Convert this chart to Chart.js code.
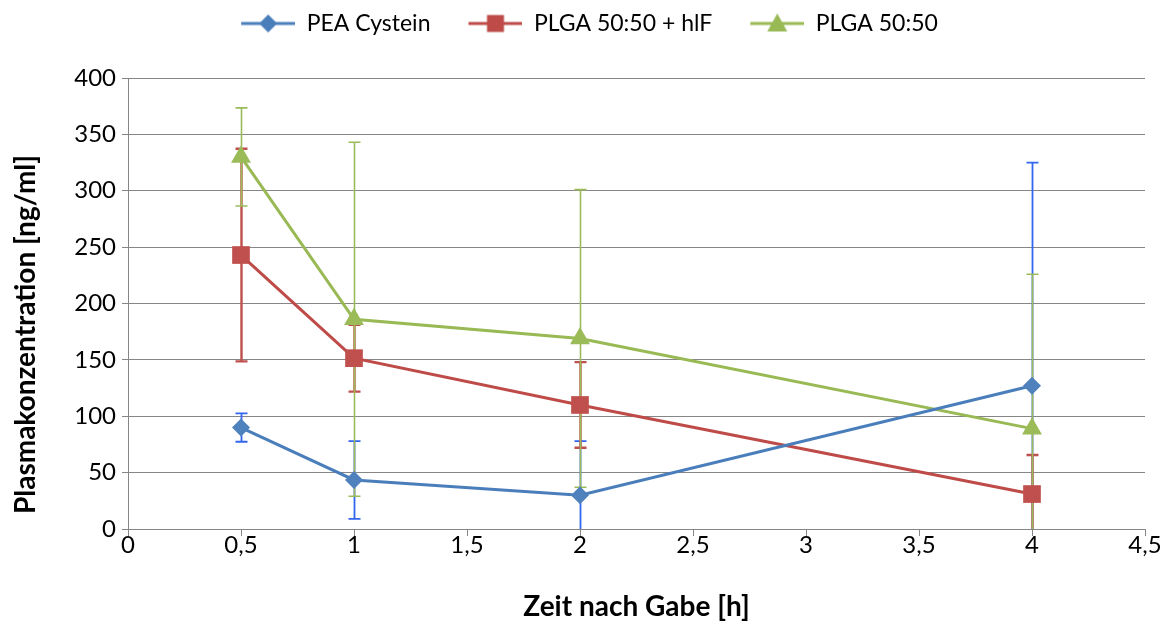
<!DOCTYPE html>
<html>
<head>
<meta charset="utf-8">
<script src="https://cdn.jsdelivr.net/npm/chart.js@4/dist/chart.umd.min.js"></script>
<style>
  html, body { margin: 0; padding: 0; background: #ffffff; }
  #wrap { width: 1168px; height: 625px; }
</style>
</head>
<body>
<div id="wrap"><canvas id="c" width="1168" height="625"></canvas></div>
<script>
// Sampling times [h]
const times = [0.5, 1, 2, 4];

// Mean plasma concentrations [ng/ml] and standard deviations per formulation
const peaCystein   = [90, 43.5, 30, 127];
const peaCysteinSd = [12.6, 34.5, 48, 198];
const plgaHlf      = [243, 151.5, 110, 31];
const plgaHlfSd    = [94.3, 29.7, 38, 34.6];
const plga         = [330, 186, 169, 89];
const plgaSd       = [43.5, 157, 132, 137];

const seriesNames = ['PEA Cystein', 'PLGA 50:50 + hlF', 'PLGA 50:50'];
const xTickLabels = ['0', '0,5', '1', '1,5', '2', '2,5', '3', '3,5', '4', '4,5'];
const yTickLabels = ['0', '50', '100', '150', '200', '250', '300', '350', '400'];
const yTitle = 'Plasmakonzentration [ng/ml]';
const xTitle = 'Zeit nach Gabe [h]';

const FONT = 'Lato, "Open Sans", "DejaVu Sans", sans-serif';
const GRID = '#868686';
const SWATCH_GAP = 28;   // blank lead-in before each legend swatch (item spacing)

const toPoints = vals => vals.map((v, i) => ({ x: times[i], y: v }));

// Legend swatch: short line with the series marker in the middle
function legendSwatch(color, style) {
  const c = document.createElement('canvas');
  c.width = 54 + SWATCH_GAP; c.height = 22;
  const g = c.getContext('2d');
  const o = SWATCH_GAP, cy = 11, cx = o + 27;
  g.strokeStyle = color; g.lineWidth = 3; g.lineCap = 'butt';
  g.beginPath(); g.moveTo(o, cy); g.lineTo(o + 54, cy); g.stroke();
  g.fillStyle = color;
  g.beginPath();
  if (style === 'rectRot') {
    g.moveTo(cx, cy - 9); g.lineTo(cx + 9, cy); g.lineTo(cx, cy + 9); g.lineTo(cx - 9, cy);
  } else if (style === 'rect') {
    g.rect(cx - 8.5, cy - 8.5, 17, 17);
  } else {
    g.moveTo(cx, cy - 10); g.lineTo(cx + 10, cy + 8); g.lineTo(cx - 10, cy + 8);
  }
  g.closePath(); g.fill();
  return c;
}

// Vertical error bars (mean ± SD), clipped at the plot area
const errorBars = {
  id: 'errorBars',
  beforeDatasetsDraw(chart) {
    const { ctx, chartArea, scales } = chart;
    const xs = scales.x, ys = scales.y;
    ctx.save();
    ctx.beginPath();
    ctx.rect(chartArea.left - 20, chartArea.top - 40, chartArea.width + 40, chartArea.height + 40);
    ctx.clip();
    chart.data.datasets.forEach(ds => {
      ctx.strokeStyle = ds.errorColor;
      ctx.lineWidth = ds.errorWidth;
      ds.data.forEach((p, j) => {
        const sd = ds.errors[j];
        const px = Math.round(xs.getPixelForValue(p.x)) + 0.5;
        const hiV = p.y + sd, loV = p.y - sd;
        const top = ys.getPixelForValue(hiV);
        const bot = ys.getPixelForValue(Math.max(0, loV));
        ctx.beginPath();
        ctx.moveTo(px, top); ctx.lineTo(px, bot);
        ctx.moveTo(px - 6, top); ctx.lineTo(px + 6, top);
        if (loV >= 0) { ctx.moveTo(px - 6, bot); ctx.lineTo(px + 6, bot); }
        ctx.stroke();
      });
    });
    ctx.restore();
  }
};

// Reserve a fixed band above the plot for the legend
const legendBand = {
  id: 'legendBand',
  beforeInit(chart) {
    const lg = chart.legend;
    if (!lg) return;
    const fit = lg.fit;
    lg.fit = function () { fit.call(this); this.height = 76; };
  }
};

// Vertical axis title, set a little below the plot's midline
const yAxisTitle = {
  id: 'yAxisTitle',
  afterDraw(chart) {
    const { ctx, chartArea } = chart;
    ctx.save();
    ctx.translate(26, (chartArea.top + chartArea.bottom) / 2 + 31);
    ctx.rotate(-Math.PI / 2);
    ctx.font = 'bold 28px ' + FONT;
    ctx.fillStyle = '#000000';
    ctx.textAlign = 'center';
    ctx.textBaseline = 'middle';
    ctx.fillText(yTitle, 0, 0);
    ctx.restore();
  }
};

const datasets = [
  {
    label: seriesNames[0], data: toPoints(peaCystein), errors: peaCysteinSd,
    borderColor: '#4A7EBB', backgroundColor: '#4F81BD', pointStyle: 'rectRot',
    pointRadius: 9, errorColor: '#3366EE', errorWidth: 1.8,
    swatch: legendSwatch('#4A7EBB', 'rectRot')
  },
  {
    label: seriesNames[1], data: toPoints(plgaHlf), errors: plgaHlfSd,
    borderColor: '#BE4B48', backgroundColor: '#C0504D', pointStyle: 'rect',
    pointRadius: 12.5, errorColor: '#C0504D', errorWidth: 2.4,
    swatch: legendSwatch('#BE4B48', 'rect')
  },
  {
    label: seriesNames[2], data: toPoints(plga), errors: plgaSd,
    borderColor: '#98B954', backgroundColor: '#9BBB59', pointStyle: 'triangle',
    pointRadius: 11.5, errorColor: '#9BBB59', errorWidth: 1.6,
    swatch: legendSwatch('#98B954', 'triangle')
  }
].map(d => Object.assign({
  borderWidth: 3, pointBorderWidth: 0, pointHoverRadius: d.pointRadius,
  pointBorderColor: d.backgroundColor, pointBackgroundColor: d.backgroundColor,
  tension: 0, fill: false
}, d));

new Chart(document.getElementById('c'), {
  type: 'line',
  data: { datasets },
  plugins: [legendBand, errorBars, yAxisTitle],
  options: {
    responsive: false,
    animation: false,
    layout: { padding: { left: 6, right: 23, top: 2, bottom: 1 } },
    plugins: {
      tooltip: { enabled: false },
      legend: {
        position: 'top',
        labels: {
          usePointStyle: true,
          pointStyleWidth: 54 + SWATCH_GAP,
          boxHeight: 22,
          padding: 10,
          color: '#000000',
          font: { family: FONT, size: 23 },
          generateLabels(chart) {
            return chart.data.datasets.map((ds, i) => ({
              text: ds.label, pointStyle: ds.swatch, datasetIndex: i,
              fillStyle: ds.borderColor, strokeStyle: ds.borderColor, lineWidth: 0, hidden: false
            }));
          }
        }
      }
    },
    scales: {
      x: {
        type: 'linear', min: 0, max: 4.5,
        afterFit(scale) { scale.height = 95; },
        ticks: {
          stepSize: 0.5, color: '#000000', padding: -5,
          font: { family: FONT, size: 24 },
          callback: (v, i) => xTickLabels[i]
        },
        grid: { drawOnChartArea: false, drawTicks: true, tickLength: 7, color: GRID, lineWidth: 1 },
        border: { color: GRID, width: 1 },
        title: {
          display: true, text: xTitle, color: '#000000',
          font: { family: FONT, size: 28, weight: 'bold' }, padding: { top: 0, bottom: 0 }
        }
      },
      y: {
        min: 0, max: 400,
        afterFit(scale) { scale.width = 122; },
        ticks: {
          stepSize: 50, color: '#000000', padding: 6,
          font: { family: FONT, size: 24 },
          callback: (v, i) => yTickLabels[i]
        },
        grid: { drawOnChartArea: true, drawTicks: true, tickLength: 6, color: GRID, lineWidth: 1 },
        border: { color: GRID, width: 1 },
        title: { display: false }
      }
    }
  }
});
</script>
</body>
</html>
